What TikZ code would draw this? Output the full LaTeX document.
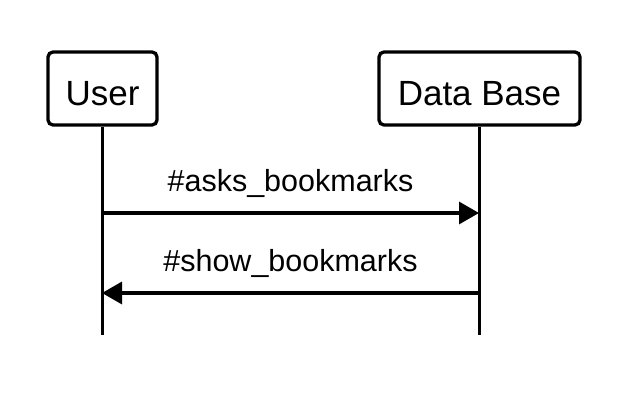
\documentclass[tikz,border=0pt]{standalone}
\usepackage{fontspec}
\setmainfont{Liberation Sans}
\usetikzlibrary{arrows.meta}
\begin{document}
\begin{tikzpicture}[x=1pt,y=-1pt,
  actor/.style={draw, line width=3.3pt, rounded corners=5pt, minimum height=73pt, inner sep=0pt, text height=35pt, text depth=0pt, font=\fontsize{35}{40}\selectfont},
  life/.style={line width=3.3pt},
  msg/.style={line width=3.3pt, -{Triangle[length=20pt,width=22pt]}},
  lbl/.style={font=\fontsize{30.5}{36}\selectfont, anchor=base}]
\useasboundingbox (0,0) rectangle (640,414);
\node[actor, minimum width=109pt] (user) at (102.5,88.5) {User};
\node[actor, minimum width=201pt] (db) at (479.5,88.5) {Data Base};
\coordinate (ue) at (102,335);
\coordinate (de) at (479,335);
\draw[life] (user.south) -- (user.south |- ue);
\draw[life] (db.south) -- (db.south |- de);
\coordinate (u1) at (102,213);
\coordinate (d1) at (479,213);
\coordinate (u2) at (102,293);
\coordinate (d2) at (479,293);
\draw[msg] (u1) -- (d1);
\draw[msg] (d2) -- (u2);
\node[lbl] (l1) at (290.5,192) {\#asks\_bookmarks};
\node[lbl] (l2) at (290.5,272) {\#show\_bookmarks};
\end{tikzpicture}
\end{document}
